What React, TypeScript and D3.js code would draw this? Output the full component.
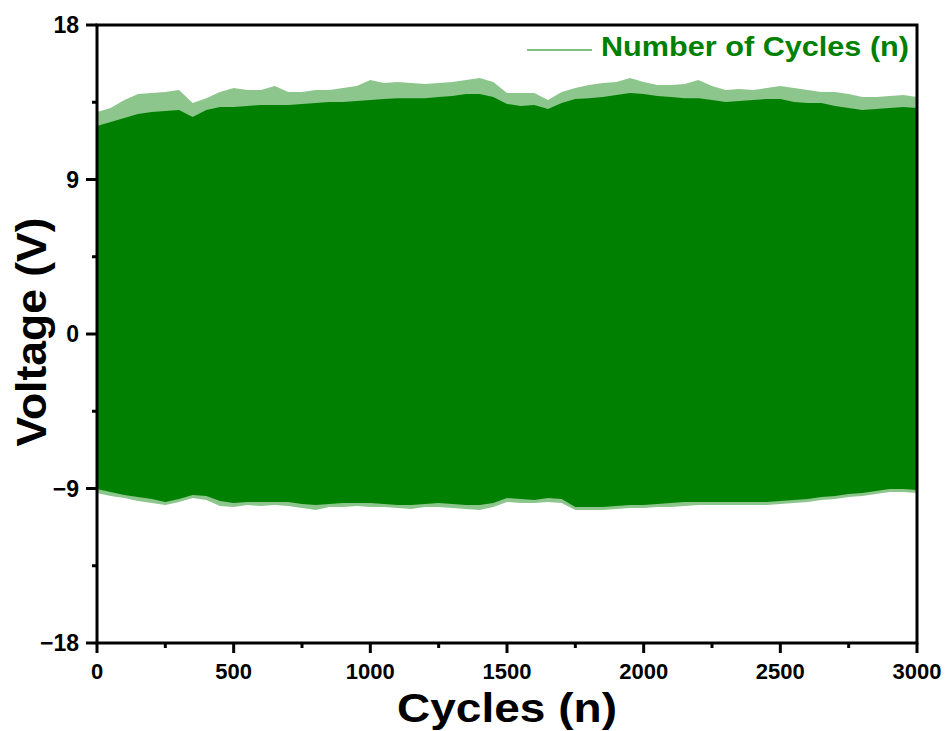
import React from "react";
import * as d3 from "d3";

// Cycle positions (every 50 cycles)
const cycles: number[] = Array.from({ length: 61 }, (_, i) => i * 50);

// Envelope values (V)
const upperPeak: number[] = [
  12.93, 13.16, 13.63, 13.98, 14.04, 14.09, 14.21, 13.45, 13.74, 14.09,
  14.33, 14.21, 14.21, 14.44, 14.09, 14.09, 14.21, 14.21, 14.33, 14.44,
  14.79, 14.62, 14.68, 14.62, 14.56, 14.62, 14.68, 14.79, 14.91, 14.68,
  14.04, 14.04, 14.04, 13.63, 14.09, 14.33, 14.5, 14.62, 14.68, 14.91,
  14.68, 14.5, 14.5, 14.56, 14.79, 14.44, 14.21, 14.27, 14.21, 14.33,
  14.44, 14.33, 14.21, 14.09, 14.09, 13.98, 13.8, 13.8, 13.86, 13.92, 13.8,
];
const upperBody: number[] = [
  12.11, 12.35, 12.58, 12.81, 12.93, 12.99, 13.05, 12.64, 13.05, 13.22,
  13.22, 13.28, 13.34, 13.34, 13.34, 13.4, 13.45, 13.51, 13.51, 13.57,
  13.63, 13.69, 13.74, 13.74, 13.74, 13.8, 13.86, 13.98, 13.98, 13.8,
  13.4, 13.28, 13.34, 13.1, 13.45, 13.69, 13.74, 13.8, 13.92, 14.04,
  13.98, 13.86, 13.8, 13.74, 13.74, 13.63, 13.51, 13.57, 13.63, 13.69,
  13.69, 13.51, 13.45, 13.45, 13.28, 13.16, 13.05, 13.1, 13.16, 13.22, 13.16,
];
const lowerBody: number[] = [
  -9.03, -9.2, -9.38, -9.49, -9.61, -9.78, -9.61, -9.38, -9.43, -9.73,
  -9.84, -9.78, -9.78, -9.78, -9.78, -9.9, -9.96, -9.9, -9.84, -9.84,
  -9.84, -9.9, -9.96, -9.96, -9.9, -9.84, -9.9, -9.96, -9.96, -9.84,
  -9.55, -9.61, -9.67, -9.55, -9.61, -10.08, -10.08, -10.08, -10.02, -9.96,
  -9.96, -9.9, -9.84, -9.78, -9.78, -9.78, -9.78, -9.78, -9.78, -9.78,
  -9.73, -9.67, -9.61, -9.49, -9.43, -9.32, -9.26, -9.14, -9.03, -9.03, -9.09,
];
const lowerPeak: number[] = [
  -9.26, -9.43, -9.55, -9.73, -9.84, -9.96, -9.78, -9.55, -9.67, -10.02,
  -10.08, -9.96, -10.02, -9.96, -10.02, -10.13, -10.25, -10.08, -10.08, -10.02,
  -10.08, -10.08, -10.13, -10.19, -10.08, -10.08, -10.13, -10.19, -10.25, -10.08,
  -9.78, -9.84, -9.84, -9.78, -9.84, -10.25, -10.25, -10.25, -10.19, -10.13,
  -10.13, -10.08, -10.08, -10.02, -9.96, -9.96, -9.96, -9.96, -9.96, -9.96,
  -9.9, -9.84, -9.78, -9.67, -9.61, -9.49, -9.43, -9.32, -9.2, -9.2, -9.26,
];

const xTicks: number[] = [0, 500, 1000, 1500, 2000, 2500, 3000];
const xMinorTicks: number[] = [250, 750, 1250, 1750, 2250, 2750];
const yTicks: number[] = [18, 9, 0, -9, -18];
const yTickLabels: string[] = ["18", "9", "0", "\u22129", "\u221218"];
const yMinorTicks: number[] = [13.5, 4.5, -4.5, -13.5];

const seriesName = "Number of Cycles (n)";
const xTitle = "Cycles (n)";
const yTitle = "Voltage (V)";

const GREEN = "#008000";
const FONT = "'Liberation Sans', Arial, Helvetica, sans-serif";

export default function App() {
  const W = 949;
  const H = 731;
  const x = d3.scaleLinear().domain([0, 3000]).range([97, 917]);
  const y = d3.scaleLinear().domain([-18, 18]).range([643, 25]);

  const pts = cycles.map((c, i) => ({
    c,
    up: upperPeak[i],
    ub: upperBody[i],
    lb: lowerBody[i],
    lp: lowerPeak[i],
  }));

  const bodyArea = d3
    .area<any>()
    .x((d) => x(d.c))
    .y0((d) => y(d.lb))
    .y1((d) => y(d.ub))(pts);
  const topFringe = d3
    .area<any>()
    .x((d) => x(d.c))
    .y0((d) => y(d.ub) + 1)
    .y1((d) => y(d.up))(pts);
  const botFringe = d3
    .area<any>()
    .x((d) => x(d.c))
    .y0((d) => y(d.lb) - 1)
    .y1((d) => y(d.lp))(pts);

  const [x0, x1] = x.range();
  const [yb, yt] = y.range();

  return (
    <svg
      width={W}
      height={H}
      style={{ position: "absolute", left: 0, top: 0, background: "#fff" }}
      fontFamily={FONT}
    >
      <rect width={W} height={H} fill="#fff" />
      {/* data */}
      <path d={topFringe!} fill={GREEN} opacity={0.45} />
      <path d={botFringe!} fill={GREEN} opacity={0.45} />
      <path d={bodyArea!} fill={GREEN} />

      {/* frame */}
      <rect
        x={x0}
        y={yt}
        width={x1 - x0}
        height={yb - yt}
        fill="none"
        stroke="#000"
        strokeWidth={3}
      />

      {/* x ticks */}
      {xTicks.map((t) => (
        <g key={"xt" + t}>
          <line x1={x(t)} x2={x(t)} y1={yb} y2={yb + 10} stroke="#000" strokeWidth={3} />
          <text
            x={x(t)}
            y={679}
            textAnchor="middle"
            fontSize={22}
            fontWeight="bold"
          >
            {t}
          </text>
        </g>
      ))}
      {xMinorTicks.map((t) => (
        <line key={"xm" + t} x1={x(t)} x2={x(t)} y1={yb} y2={yb + 5} stroke="#000" strokeWidth={3} />
      ))}

      {/* y ticks */}
      {yTicks.map((t, i) => (
        <g key={"yt" + t}>
          <line x1={x0 - 11} x2={x0} y1={y(t)} y2={y(t)} stroke="#000" strokeWidth={3} />
          <text
            x={79}
            y={y(t)}
            dy="0.36em"
            textAnchor="end"
            fontSize={23}
            fontWeight="bold"
          >
            {yTickLabels[i]}
          </text>
        </g>
      ))}
      {yMinorTicks.map((t) => (
        <line key={"ym" + t} x1={x0 - 5} x2={x0} y1={y(t)} y2={y(t)} stroke="#000" strokeWidth={3} />
      ))}

      {/* axis titles */}
      <text
        x={(x0 + x1) / 2}
        y={722}
        textAnchor="middle"
        fontSize={40}
        fontWeight="bold"
        textLength={220}
        lengthAdjust="spacingAndGlyphs"
      >
        {xTitle}
      </text>
      <text
        transform={`translate(46, ${(yt + yb) / 2 - 2}) rotate(-90)`}
        textAnchor="middle"
        fontSize={42}
        fontWeight="bold"
        textLength={229}
        lengthAdjust="spacingAndGlyphs"
      >
        {yTitle}
      </text>

      {/* legend */}
      <line x1={527} x2={592} y1={50} y2={50} stroke={GREEN} strokeWidth={1.2} />
      <text
        x={601}
        y={56}
        fontSize={28}
        fontWeight="bold"
        fill={GREEN}
        textLength={308}
        lengthAdjust="spacingAndGlyphs"
      >
        {seriesName}
      </text>
    </svg>
  );
}
